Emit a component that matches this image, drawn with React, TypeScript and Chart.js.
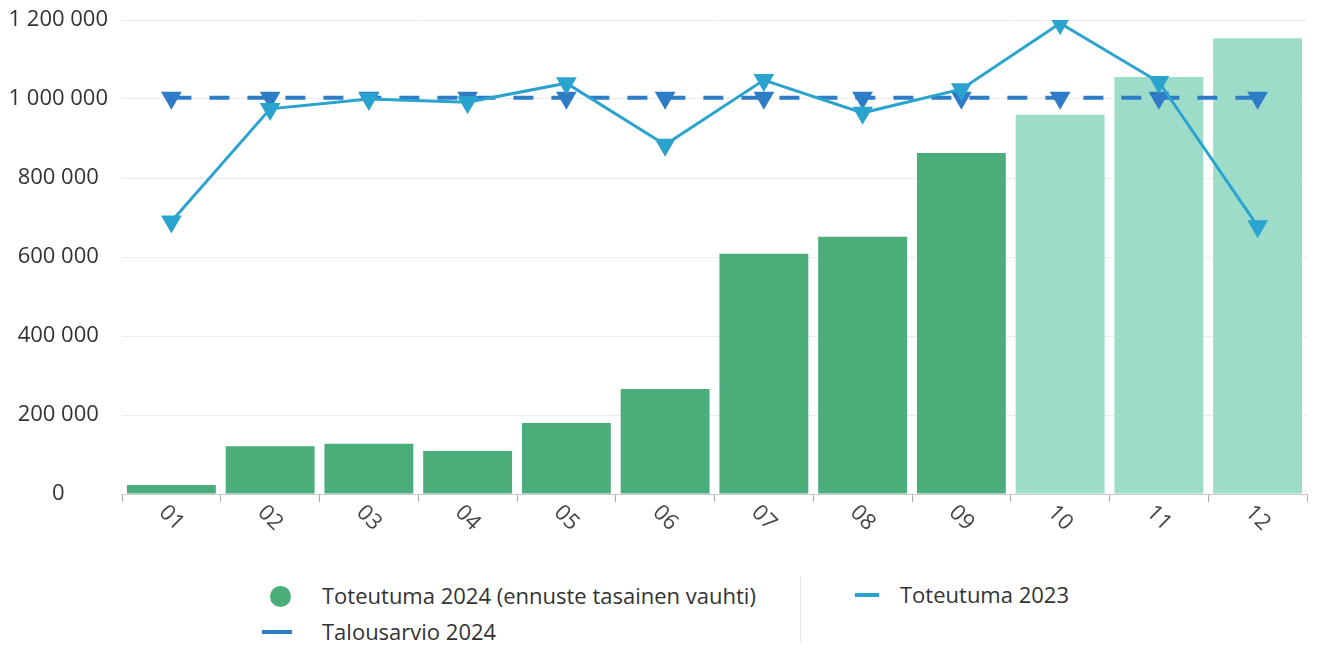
import React, { useEffect, useRef } from "react";
import { Chart, registerables } from "chart.js";

Chart.register(...registerables);

const months = ["01", "02", "03", "04", "05", "06", "07", "08", "09", "10", "11", "12"];
const actual2024 = [23000, 121000, 127000, 109000, 180000, 266000, 608000, 651000, 863000, 960000, 1056000, 1154000];
const isForecast = [false, false, false, false, false, false, false, false, false, true, true, true];
const actual2023 = [690000, 975000, 1000000, 992000, 1040000, 884000, 1048000, 965000, 1025000, 1192000, 1043000, 678000];
const budget2024 = [1003000, 1003000, 1003000, 1003000, 1003000, 1003000, 1003000, 1003000, 1003000, 1003000, 1003000, 1003000];
const yTicks = [0, 200000, 400000, 600000, 800000, 1000000, 1200000];

const legendLabels = ["Toteutuma 2024 (ennuste tasainen vauhti)", "Toteutuma 2023", "Talousarvio 2024"];

const GREEN = "#4aad7a";
const LIGHT = "#9cdcc8";
const LINE23 = "#2aa3cf";
const BUDGET = "#2f7cc6";
const FONT = "'Open Sans', 'Noto Sans', sans-serif";

const fmt = (v: number) => String(v).replace(/\B(?=(\d{3})+(?!\d))/g, " ");

const xLabelPlugin = {
  id: "xLabels",
  afterDraw(chart: any) {
    const ctx = chart.ctx;
    const xs = chart.scales.x;
    ctx.save();
    ctx.font = `22px ${FONT}`;
    ctx.fillStyle = "#444";
    ctx.textAlign = "center";
    ctx.textBaseline = "middle";
    months.forEach((m, i) => {
      const x = xs.getPixelForValue(i);
      ctx.save();
      ctx.translate(x, xs.top + 24);
      ctx.rotate(Math.PI / 4);
      ctx.fillText(m, 0, 0);
      ctx.restore();
    });
    ctx.restore();
  },
};

export default function App() {
  const ref = useRef<HTMLCanvasElement>(null);
  useEffect(() => {
    document.body.style.margin = "0";
    const chart = new Chart(ref.current!, {
      type: "bar",
      data: {
        labels: months,
        datasets: [
          {
            type: "line",
            label: legendLabels[1],
            data: actual2023,
            borderColor: LINE23,
            backgroundColor: LINE23,
            borderWidth: 3,
            pointStyle: "triangle",
            rotation: 180,
            pointRadius: 9,
            pointBackgroundColor: LINE23,
            pointBorderColor: LINE23,
            order: 1,
          } as any,
          {
            type: "line",
            label: legendLabels[2],
            data: budget2024,
            borderColor: BUDGET,
            backgroundColor: BUDGET,
            borderWidth: 4,
            borderDash: [20, 18],
            pointStyle: "triangle",
            rotation: 180,
            pointRadius: 8,
            pointBackgroundColor: BUDGET,
            pointBorderColor: BUDGET,
            order: 2,
          } as any,
          {
            type: "bar",
            label: legendLabels[0],
            data: actual2024,
            backgroundColor: isForecast.map((f) => (f ? LIGHT : GREEN)),
            categoryPercentage: 1,
            barPercentage: 0.9,
            order: 3,
          },
        ],
      },
      options: {
        animation: false,
        responsive: false,
        maintainAspectRatio: false,
        layout: { padding: { top: 20, left: 8, right: 9, bottom: 58 } },
        plugins: { legend: { display: false }, tooltip: { enabled: false } },
        scales: {
          x: {
            grid: { offset: true, drawOnChartArea: false, drawTicks: true, tickLength: 8, color: "#aaa" },
            border: { color: "#c8c8c8", width: 1 },
            ticks: { display: false },
          },
          y: {
            min: 0,
            max: 1200000,
            afterBuildTicks: (s: any) => {
              s.ticks = yTicks.map((v) => ({ value: v }));
            },
            afterFit: (s: any) => {
              s.width = 114;
              s.paddingTop = 0;
              s.paddingBottom = 0;
            },
            grid: { color: "#ececec", drawTicks: false },
            border: { display: false },
            ticks: {
              crossAlign: "center",
              padding: 14,
              color: "#333",
              font: { size: 22, family: FONT },
              callback: (v: any) => fmt(Number(v)),
            },
          },
        },
      },
      plugins: [xLabelPlugin],
    });
    return () => chart.destroy();
  }, []);

  const text: React.CSSProperties = {
    position: "absolute",
    fontFamily: FONT,
    fontSize: 22,
    color: "#333",
    lineHeight: "26px",
    whiteSpace: "nowrap",
  };
  return (
    <div style={{ position: "relative", width: 1319, height: 646, background: "#fff" }}>
      <canvas ref={ref} width={1319} height={560} style={{ display: "block" }} />
      <div style={{ position: "absolute", left: 270, top: 586, width: 21, height: 21, borderRadius: "50%", background: GREEN }} />
      <div style={{ ...text, left: 322, top: 582 }}>{legendLabels[0]}</div>
      <div style={{ position: "absolute", left: 800, top: 576, width: 1, height: 66, background: "#e6e6e6" }} />
      <div style={{ position: "absolute", left: 855, top: 593, width: 24, height: 4, background: LINE23 }} />
      <div style={{ ...text, left: 900, top: 581 }}>{legendLabels[1]}</div>
      <div style={{ position: "absolute", left: 262, top: 630, width: 30, height: 4, background: BUDGET }} />
      <div style={{ ...text, left: 322, top: 618 }}>{legendLabels[2]}</div>
    </div>
  );
}
